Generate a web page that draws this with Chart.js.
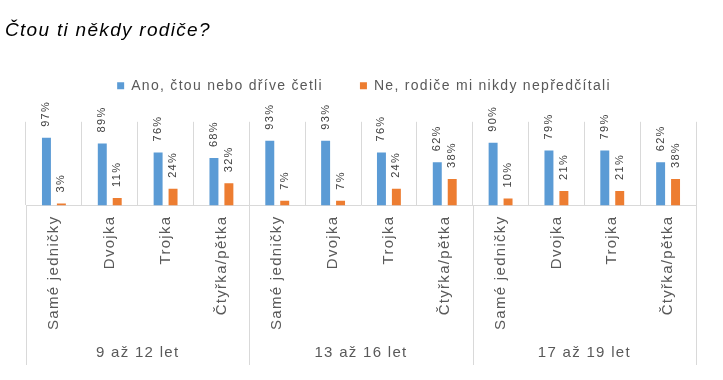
<!DOCTYPE html>
<html>
<head>
<meta charset="utf-8">
<script src="https://cdn.jsdelivr.net/npm/chart.js@4/dist/chart.umd.min.js"></script>
<style>
  html, body { margin: 0; padding: 0; background: #ffffff; }
  #wrap { width: 723px; height: 380px; }
</style>
</head>
<body>
<div id="wrap"><canvas id="c" width="723" height="380"></canvas></div>
<script>
const TITLE = 'Čtou ti někdy rodiče?';
const SERIES_NAMES = ['Ano, čtou nebo dříve četli', 'Ne, rodiče mi nikdy nepředčítali'];
const CATEGORIES = ['Samé jedničky', 'Dvojka', 'Trojka', 'Čtyřka/pětka',
                    'Samé jedničky', 'Dvojka', 'Trojka', 'Čtyřka/pětka',
                    'Samé jedničky', 'Dvojka', 'Trojka', 'Čtyřka/pětka'];
const GROUPS = ['9 až 12 let', '13 až 16 let', '17 až 19 let'];
const ANO = [97, 89, 76, 68, 93, 93, 76, 62, 90, 79, 79, 62];
const NE  = [3, 11, 24, 32, 7, 7, 24, 38, 10, 21, 21, 38];

const FONT = '"Liberation Sans", Arial, sans-serif';
const SPACING = '1.3px';
const GRID = '#D9D9D9';
const TXT = '#595959';

Chart.defaults.font.family = FONT;
Chart.defaults.color = TXT;

const spacingPlugin = {
  id: 'spacing',
  beforeUpdate(chart) { chart.ctx.letterSpacing = SPACING; },
  beforeLayout(chart) { chart.ctx.letterSpacing = SPACING; },
  beforeDraw(chart) { chart.ctx.letterSpacing = SPACING; }
};

const legendGap = {
  id: 'legendGap',
  beforeInit(chart) {
    if (!chart.legend) return;
    const orig = chart.legend.fit;
    chart.legend.fit = function () { orig.call(this); this.height += 19; };
  }
};

const dataLabels = {
  id: 'dataLabels',
  afterDatasetsDraw(chart) {
    const ctx = chart.ctx;
    ctx.save();
    ctx.letterSpacing = SPACING;
    ctx.font = '11px ' + FONT;
    ctx.fillStyle = '#404040';
    chart.data.datasets.forEach((ds, i) => {
      const meta = chart.getDatasetMeta(i);
      meta.data.forEach((bar, j) => {
        ctx.save();
        ctx.translate(bar.x, bar.y - 11);
        ctx.rotate(-Math.PI / 2);
        ctx.textAlign = 'left';
        ctx.textBaseline = 'middle';
        ctx.fillText(ds.data[j] + '%', 0, 0);
        ctx.restore();
      });
    });
    ctx.restore();
  }
};

const groupAxis = {
  id: 'groupAxis',
  afterDraw(chart) {
    const {ctx, chartArea, scales} = chart;
    const x = scales.x;
    const per = CATEGORIES.length / GROUPS.length;
    const bounds = [];
    for (let g = 0; g <= GROUPS.length; g++) {
      let px;
      if (g === 0) px = chartArea.left;
      else if (g === GROUPS.length) px = chartArea.right;
      else px = (x.getPixelForValue(g * per - 1) + x.getPixelForValue(g * per)) / 2;
      bounds.push(px);
    }
    ctx.save();
    ctx.strokeStyle = GRID;
    ctx.lineWidth = 1;
    bounds.forEach(px => {
      const p = Math.round(px) + 0.5;
      ctx.beginPath();
      ctx.moveTo(p, chartArea.bottom);
      ctx.lineTo(p, chart.height - 15);
      ctx.stroke();
    });
    ctx.letterSpacing = SPACING;
    ctx.font = '15px ' + FONT;
    ctx.fillStyle = TXT;
    ctx.textAlign = 'center';
    ctx.textBaseline = 'middle';
    GROUPS.forEach((g, i) => {
      ctx.fillText(g, (bounds[i] + bounds[i + 1]) / 2, chart.height - 27);
    });
    ctx.restore();
  }
};

new Chart(document.getElementById('c'), {
  type: 'bar',
  data: {
    labels: CATEGORIES,
    datasets: [
      { label: SERIES_NAMES[0], data: ANO, backgroundColor: '#5B9BD5', borderWidth: 0,
        barPercentage: 0.6, categoryPercentage: 0.535 },
      { label: SERIES_NAMES[1], data: NE, backgroundColor: '#ED7D31', borderWidth: 0,
        barPercentage: 0.6, categoryPercentage: 0.535 }
    ]
  },
  options: {
    responsive: false,
    animation: false,
    devicePixelRatio: 1,
    layout: { padding: { left: 5, right: 0, top: 0, bottom: 40 } },
    plugins: {
      title: {
        display: true,
        text: TITLE,
        align: 'start',
        color: '#000000',
        font: { size: 19, style: 'italic', weight: 'normal', family: FONT },
        padding: { top: 19, bottom: 0 }
      },
      legend: {
        display: true,
        position: 'top',
        align: 'center',
        labels: {
          boxWidth: 7, boxHeight: 7, padding: 37, color: TXT,
          font: { size: 14, family: FONT }
        }
      },
      tooltip: { enabled: false }
    },
    scales: {
      x: {
        offset: true,
        grid: { display: true, offset: true, color: GRID, lineWidth: 1, drawTicks: false },
        border: { display: true, color: GRID, width: 1 },
        ticks: { autoSkip: false, minRotation: 90, maxRotation: 90, padding: 10,
                 color: TXT, font: { size: 15, family: FONT } }
      },
      y: {
        display: true,
        position: 'left',
        min: 0, max: 120,
        grid: { display: false, drawTicks: false },
        border: { display: false },
        ticks: { display: false },
        afterFit(s) { s.width = 21; }
      },
      y2: {
        type: 'linear',
        display: true,
        position: 'right',
        min: 0, max: 120,
        grid: { display: false, drawTicks: false },
        border: { display: false },
        ticks: { display: false },
        afterFit(s) { s.width = 27; }
      }
    }
  },
  plugins: [spacingPlugin, legendGap, dataLabels, groupAxis]
});
</script>
</body>
</html>
